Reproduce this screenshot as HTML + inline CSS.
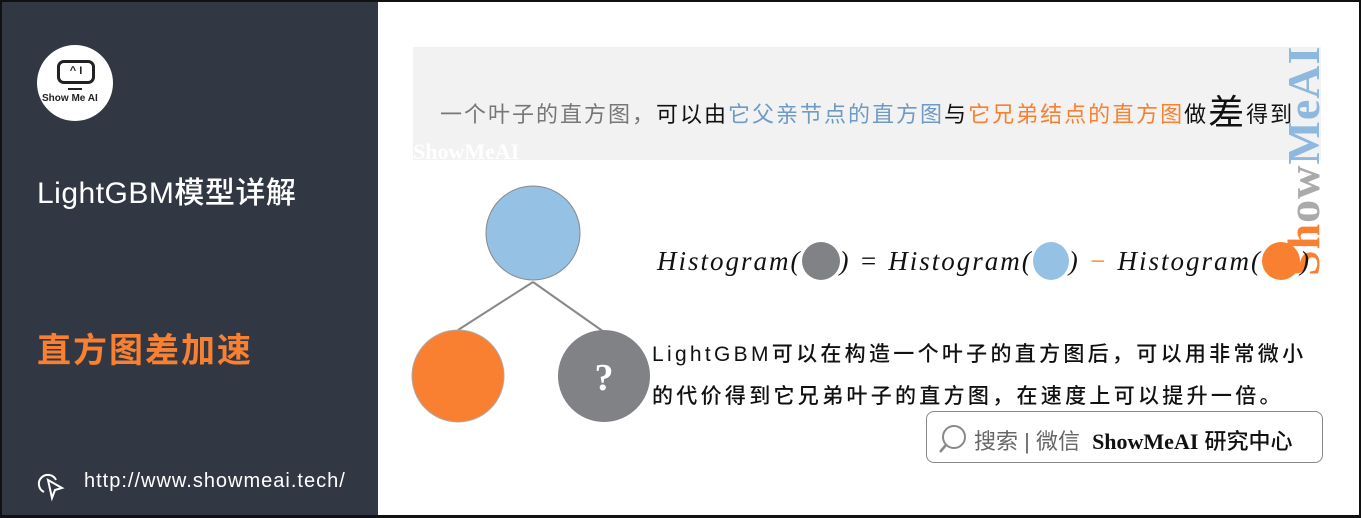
<!DOCTYPE html>
<html><head><meta charset="utf-8"><style>
*{margin:0;padding:0;box-sizing:border-box}
body{width:1361px;height:518px;overflow:hidden;background:#fff;position:relative;font-family:"Liberation Sans","Noto Sans CJK SC",sans-serif}
.frame{position:absolute;left:0;top:0;width:1361px;height:518px;border:2px solid #111;border-bottom-width:3px;z-index:10;pointer-events:none}
.side{position:absolute;left:0;top:0;width:378px;height:518px;background:#323843}
.abs{position:absolute;white-space:nowrap}
</style></head><body>
<div class="side"></div>
<div class="abs" style="left:37px;top:45px;width:76px;height:76px;border-radius:50%;background:#fff"></div>
<div class="abs" style="left:57px;top:60px;width:38px;height:24px;border:3px solid #222;border-radius:7px;font:bold 11px 'Liberation Sans';color:#222;text-align:center;line-height:17px">^ I</div>
<div class="abs" style="left:68px;top:88px;width:14px;height:2px;background:#222"></div>
<div class="abs" style="left:42px;top:93px;font:bold 10px 'Liberation Sans';color:#222">Show Me AI</div>
<div class="abs" style="left:37px;top:168px;font-size:30px;color:#fff;font-weight:500;letter-spacing:0.5px">LightGBM模型详解</div>
<div class="abs" style="left:37px;top:323px;font-size:34px;color:#f98030;font-weight:bold;letter-spacing:2px">直方图差加速</div>
<svg class="abs" style="left:36px;top:470px" width="30" height="32" viewBox="0 0 30 32"><path d="M8 22 A9 9 0 1 1 20 10" fill="none" stroke="#fff" stroke-width="2"/><path d="M12 10 L26 18 L19 20 L16 28 Z" fill="none" stroke="#fff" stroke-width="2"/></svg>
<div class="abs" style="left:84px;top:470px;font-size:20px;color:#fff;letter-spacing:1px">http://www.showmeai.tech/</div>

<div class="abs" style="left:413px;top:47px;width:908px;height:113px;background:#f2f2f2"></div>
<div class="abs" style="left:413px;top:139px;font:bold 22px 'Liberation Serif',serif;color:#fff">ShowMeAI</div>
<div class="abs" style="left:440px;top:84px;font-size:22px;letter-spacing:2px;color:#777">一个叶子的直方图，<span style="color:#111">可以由</span><span style="color:#6f9ac4">它父亲节点的直方图</span><span style="color:#111">与</span><span style="color:#f98030">它兄弟结点的直方图</span><span style="color:#111">做<span style="font-size:36px;vertical-align:-3px">差</span>得到</span></div>
<div class="abs" style="left:1282px;top:40px;width:44px;height:236px;"><div style="position:absolute;left:0;top:236px;transform-origin:0 0;transform:rotate(-90deg);font:bold 46px 'Liberation Serif',serif;color:#aaa;line-height:44px;letter-spacing:1px"><span style="color:#f98030">Sh</span>ow<span style="color:#8fb8de">MeAI</span></div></div>

<svg class="abs" style="left:400px;top:180px" width="260" height="250">
<line x1="133" y1="102" x2="58" y2="150" stroke="#888" stroke-width="2"/>
<line x1="133" y1="102" x2="204" y2="152" stroke="#888" stroke-width="2"/>
<circle cx="133" cy="53" r="47" fill="#94c1e4" stroke="#888"/>
<circle cx="58" cy="196" r="46" fill="#f98030" stroke="#aaa"/>
<circle cx="204" cy="196" r="46" fill="#808285"/>
<text x="204" y="210" text-anchor="middle" font-family="Liberation Serif" font-weight="bold" font-size="38" fill="#fff">?</text>
</svg>
<div class="abs" style="left:657px;top:242px;font:italic 27px 'Liberation Serif',serif;color:#111;letter-spacing:2px">Histogram(<span style="display:inline-block;width:38px;height:38px;border-radius:50%;background:#808285;vertical-align:-10px"></span>) = Histogram(<span style="display:inline-block;width:36px;height:38px;border-radius:50%;background:#94c1e4;vertical-align:-10px"></span>) <span style="color:#f98030">−</span> Histogram(<span style="display:inline-block;width:38px;height:38px;border-radius:50%;background:#f98030;vertical-align:-10px"></span>)</div>
<div class="abs" style="left:652px;top:334px;font-size:21px;letter-spacing:3.3px;color:#111;line-height:42px;font-weight:500">LightGBM可以在构造一个叶子的直方图后，可以用非常微小<br>的代价得到它兄弟叶子的直方图，在速度上可以提升一倍。</div>
<div class="abs" style="left:926px;top:411px;width:397px;height:52px;border:1px solid #888;border-radius:8px;background:#fff"></div>
<svg class="abs" style="left:936px;top:423px" width="34" height="32"><circle cx="18" cy="14" r="11" fill="none" stroke="#888" stroke-width="2"/><line x1="10" y1="22" x2="4" y2="29" stroke="#888" stroke-width="2.5"/></svg>
<div class="abs" style="left:974px;top:424px;font-size:22px;color:#666">搜索 | 微信 <b style="color:#111;font-family:'Liberation Serif',serif;margin-left:6px">ShowMeAI</b> <span style="color:#111;font-weight:500">研究中心</span></div>
<div class="frame"></div>
</body></html>
